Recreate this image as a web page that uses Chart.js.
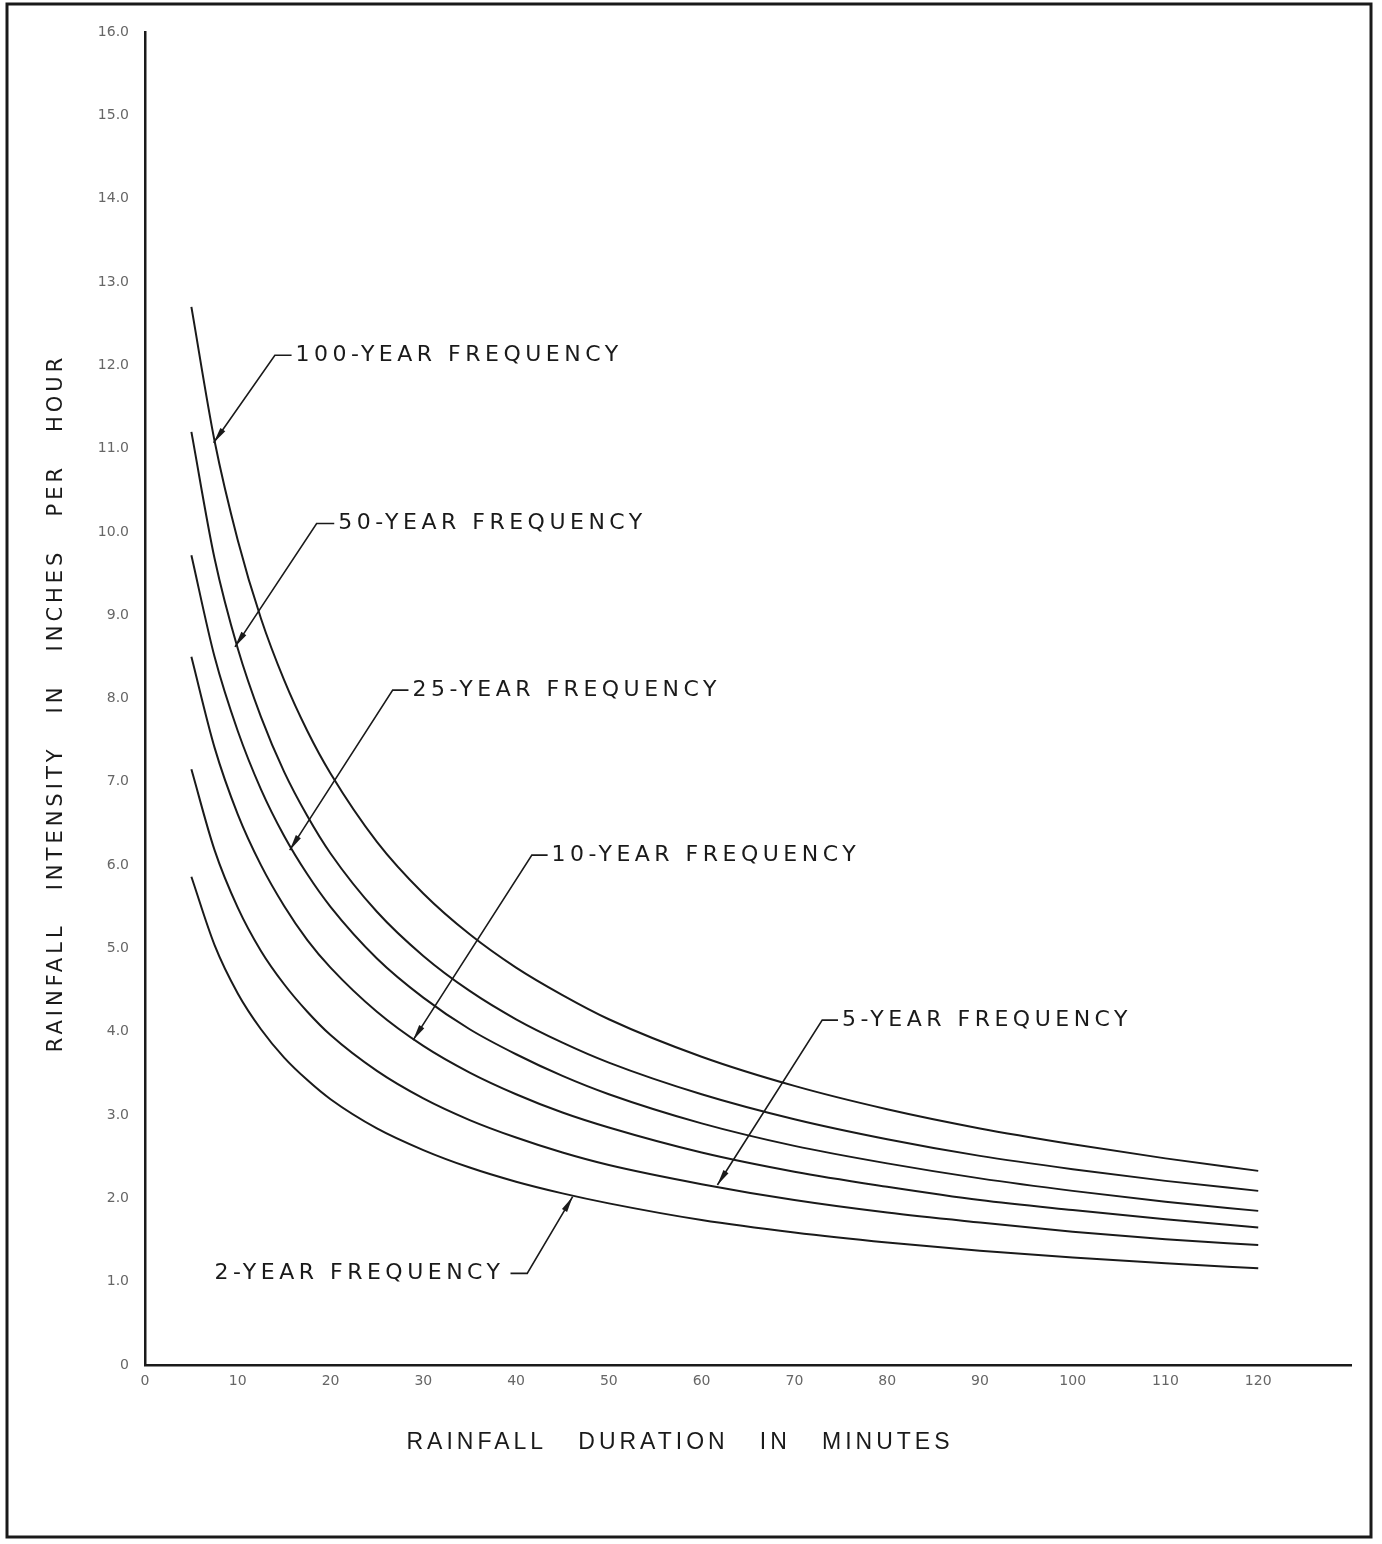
<!DOCTYPE html>
<html>
<head>
<meta charset="utf-8">
<script src="https://cdn.jsdelivr.net/npm/chart.js@4.4.1/dist/chart.umd.min.js"></script>
<style>
  html, body { margin: 0; padding: 0; background: #fff; }
  #wrap { position: relative; width: 1382px; height: 1544px; }
</style>
</head>
<body>
<div id="wrap"><canvas id="idfChart" width="1382" height="1544"></canvas></div>
<script>
// Rainfall duration in minutes
const durations = [5, 7.5, 10, 12.5, 15, 17.5, 20, 25, 30, 35, 40, 45, 50, 60, 70, 80, 90, 100, 110, 120];

// Rainfall intensity (inches per hour)
const freq100 = [12.70, 11.09, 9.90, 8.96, 8.22, 7.61, 7.10, 6.28, 5.66, 5.17, 4.77, 4.44, 4.15, 3.70, 3.35, 3.07, 2.84, 2.65, 2.48, 2.33];
const freq50  = [11.20, 9.68, 8.60, 7.78, 7.12, 6.59, 6.14, 5.44, 4.91, 4.49, 4.15, 3.87, 3.63, 3.25, 2.95, 2.71, 2.51, 2.35, 2.21, 2.09];
const freq25  = [9.72, 8.50, 7.61, 6.91, 6.35, 5.89, 5.50, 4.88, 4.41, 4.03, 3.73, 3.47, 3.25, 2.90, 2.63, 2.42, 2.24, 2.09, 1.96, 1.85];
const freq10  = [8.50, 7.41, 6.61, 6.00, 5.51, 5.10, 4.77, 4.24, 3.83, 3.51, 3.25, 3.03, 2.85, 2.55, 2.32, 2.14, 1.98, 1.86, 1.75, 1.65];
const freq5   = [7.15, 6.18, 5.49, 4.97, 4.57, 4.24, 3.96, 3.53, 3.20, 2.94, 2.73, 2.55, 2.40, 2.17, 1.98, 1.83, 1.71, 1.60, 1.51, 1.44];
const freq2   = [5.86, 5.04, 4.46, 4.03, 3.69, 3.42, 3.19, 2.84, 2.58, 2.37, 2.20, 2.06, 1.94, 1.74, 1.59, 1.47, 1.37, 1.29, 1.22, 1.16];

const seriesNames = ['100-YEAR FREQUENCY', '50-YEAR FREQUENCY', '25-YEAR FREQUENCY',
                     '10-YEAR FREQUENCY', '5-YEAR FREQUENCY', '2-YEAR FREQUENCY'];
const seriesValues = [freq100, freq50, freq25, freq10, freq5, freq2];

// Tick labels
const xTicks = [0, 10, 20, 30, 40, 50, 60, 70, 80, 90, 100, 110, 120];
const yTicks = [0, 1, 2, 3, 4, 5, 6, 7, 8, 9, 10, 11, 12, 13, 14, 15, 16];

const xTitle = 'RAINFALL   DURATION   IN   MINUTES';
const yTitle = 'RAINFALL   INTENSITY   IN   INCHES   PER   HOUR';

// Leader lines for the curve labels (in data units)
const callouts = [
  { series: 0, tip: [7.4, 11.07], elbow: [14.0, 12.12], end: 15.8 },
  { series: 1, tip: [9.7, 8.62], elbow: [18.5, 10.10], end: 20.4 },
  { series: 2, tip: [15.6, 6.18], elbow: [26.7, 8.10], end: 28.4 },
  { series: 3, tip: [28.9, 3.90], elbow: [41.7, 6.12], end: 43.4 },
  { series: 4, tip: [61.7, 2.16], elbow: [73.0, 4.14], end: 74.7 },
  { series: 5, tip: [46.1, 2.02], elbow: [41.2, 1.10], end: 39.4, leftSide: true }
];

const INK = '#1a1a1a';

function drawArrow(ctx, fromX, fromY, toX, toY) {
  const ang = Math.atan2(toY - fromY, toX - fromX);
  const len = 16, half = 3;
  ctx.save();
  ctx.translate(toX, toY);
  ctx.rotate(ang);
  ctx.beginPath();
  ctx.moveTo(0, 0);
  ctx.lineTo(-len, -half);
  ctx.lineTo(-len, half);
  ctx.closePath();
  ctx.fill();
  ctx.restore();
}

const drawingPlugin = {
  id: 'drawing',
  beforeDraw(chart) {
    const ctx = chart.ctx;
    ctx.save();
    ctx.fillStyle = '#fff';
    ctx.fillRect(0, 0, chart.width, chart.height);
    ctx.restore();
  },
  afterDraw(chart) {
    const ctx = chart.ctx;
    const xs = chart.scales.x, ys = chart.scales.y;
    ctx.save();

    // page frame
    ctx.strokeStyle = INK;
    ctx.lineWidth = 3;
    ctx.strokeRect(7, 4, 1364, 1533);

    // callouts
    ctx.lineWidth = 1.6;
    ctx.strokeStyle = INK;
    ctx.fillStyle = INK;
    ctx.font = '22px "DejaVu Sans"';
    ctx.letterSpacing = '4.5px';
    ctx.textBaseline = 'middle';
    callouts.forEach(c => {
      const tx = xs.getPixelForValue(c.tip[0]), ty = ys.getPixelForValue(c.tip[1]);
      const ex = xs.getPixelForValue(c.elbow[0]), ey = ys.getPixelForValue(c.elbow[1]);
      const endX = xs.getPixelForValue(c.end);
      ctx.beginPath();
      ctx.moveTo(tx, ty);
      ctx.lineTo(ex, ey);
      ctx.lineTo(endX, ey);
      ctx.stroke();
      drawArrow(ctx, ex, ey, tx, ty);
      if (c.leftSide) {
        ctx.textAlign = 'right';
        ctx.fillText(seriesNames[c.series], endX - 6, ey);
      } else {
        ctx.textAlign = 'left';
        ctx.fillText(seriesNames[c.series], endX + 4, ey);
      }
    });

    // axis titles
    ctx.letterSpacing = '4px';
    ctx.textAlign = 'center';
    ctx.font = '23px "Liberation Sans"';
    ctx.fillText(xTitle, 680, 1443);

    ctx.font = '21px "DejaVu Sans"';
    ctx.letterSpacing = '4px';
    ctx.translate(57, 703);
    ctx.rotate(-Math.PI / 2);
    ctx.fillText(yTitle, 0, 0);
    ctx.restore();
  }
};

const datasets = seriesValues.map((vals, i) => ({
  label: seriesNames[i],
  data: durations.map((d, j) => ({ x: d, y: vals[j] })),
  showLine: true,
  borderColor: INK,
  borderWidth: 2,
  pointRadius: 0,
  cubicInterpolationMode: 'monotone',
  fill: false
}));

new Chart(document.getElementById('idfChart'), {
  type: 'scatter',
  data: { datasets },
  options: {
    responsive: false,
    animation: false,
    devicePixelRatio: 1,
    layout: { padding: { top: 32, right: 31, left: 0, bottom: 0 } },
    plugins: {
      legend: { display: false },
      tooltip: { enabled: false }
    },
    scales: {
      x: {
        type: 'linear',
        min: 0,
        max: 130,
        afterBuildTicks: (scale) => { scale.ticks = xTicks.map(v => ({ value: v })); },
        afterFit: (scale) => { scale.height = 179; },
        grid: { display: false, drawTicks: false },
        border: { display: true, color: INK, width: 2.5 },
        ticks: {
          color: '#666',
          padding: 8,
          maxRotation: 0,
          font: { family: 'DejaVu Sans', size: 14 },
          callback: (v) => String(v)
        }
      },
      y: {
        type: 'linear',
        min: 0,
        max: 16,
        afterBuildTicks: (scale) => { scale.ticks = yTicks.map(v => ({ value: v })); },
        afterFit: (scale) => { scale.width = 145; },
        grid: { display: false, drawTicks: false },
        border: { display: true, color: INK, width: 2.5 },
        ticks: {
          color: '#666',
          padding: 16,
          font: { family: 'DejaVu Sans', size: 14 },
          callback: (v) => v === 0 ? '0' : v.toFixed(1)
        }
      }
    }
  },
  plugins: [drawingPlugin]
});
</script>
</body>
</html>
